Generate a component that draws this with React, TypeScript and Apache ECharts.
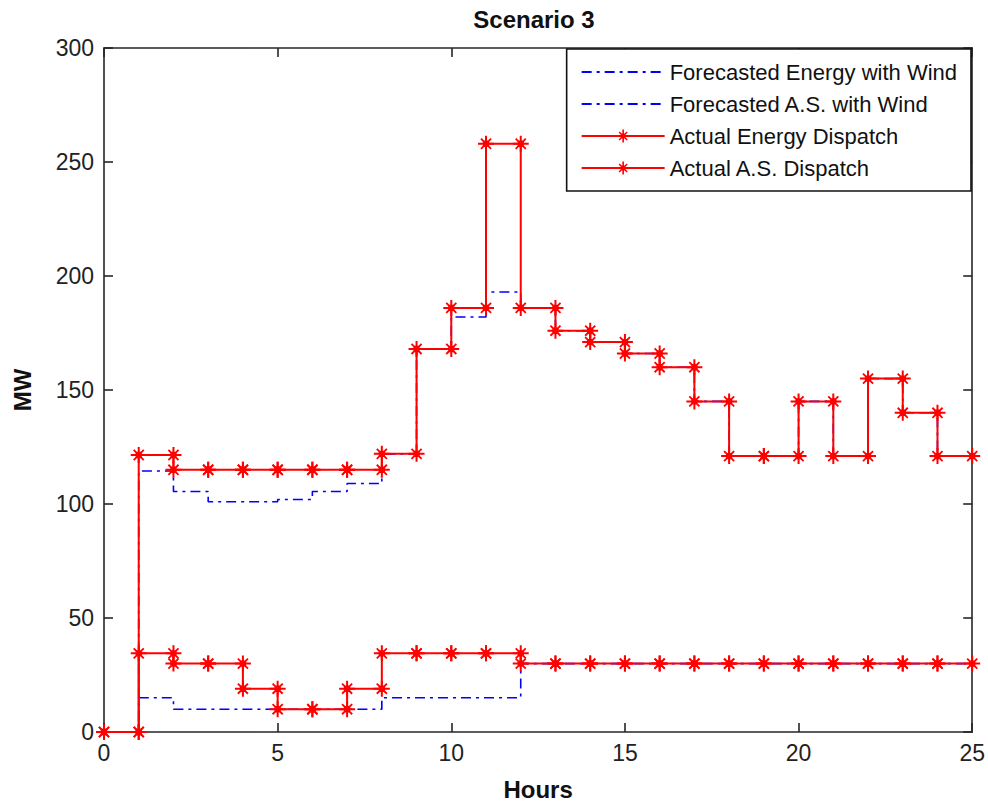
import React, { useEffect, useRef } from "react";
import * as echarts from "echarts";

// Step values for each one-hour interval [h, h+1], h = 0..24
const forecastEnergy = [0, 114.5, 105.5, 101, 101, 102, 105.5, 109, 122, 168, 182, 193, 186, 176, 171, 166, 160, 145, 121, 121, 145, 121, 155, 140, 121];
const forecastAS = [0, 15, 10, 10, 10, 10, 10, 10, 15, 15, 15, 15, 30, 30, 30, 30, 30, 30, 30, 30, 30, 30, 30, 30, 30];
const actualEnergy = [0, 121.5, 115, 115, 115, 115, 115, 115, 122, 168, 186, 258, 186, 176, 171, 166, 160, 145, 121, 121, 145, 121, 155, 140, 121];
const actualAS = [0, 34.5, 30, 30, 19, 10, 10, 19, 34.5, 34.5, 34.5, 34.5, 30, 30, 30, 30, 30, 30, 30, 30, 30, 30, 30, 30, 30];

const seriesNames = [
  "Forecasted Energy with Wind",
  "Forecasted A.S. with Wind",
  "Actual Energy Dispatch",
  "Actual A.S. Dispatch",
];

const xTicks = { min: 0, max: 25, interval: 5 };
const yTicks = { min: 0, max: 300, interval: 50 };

const FONT = "'Liberation Sans', Arial, Helvetica, sans-serif";
const AXIS_COLOR = "#262626";

const starPath =
  "path://M0,7 H16 V9 H0 Z M7,0 H9 V16 H7 Z " +
  "M4.8,6.3 L6.3,4.8 L9.7,4.8 L11.2,6.3 L11.2,9.7 L9.7,11.2 L6.3,11.2 L4.8,9.7 Z " +
  "M2.3,3.6 L3.6,2.3 L13.7,12.4 L12.4,13.7 Z M12.4,2.3 L13.7,3.6 L3.6,13.7 L2.3,12.4 Z";

function toSteps(vals: number[]): number[][] {
  const pts: number[][] = [];
  vals.forEach((v, i) => {
    pts.push([i, v]);
    pts.push([i + 1, v]);
  });
  return pts;
}

export default function App() {
  const ref = useRef<HTMLDivElement>(null);
  useEffect(() => {
    document.body.style.margin = "0";
    const chart = echarts.init(ref.current!, null, { renderer: "svg" });
    const axisCommon = {
      axisLine: { show: true, onZero: false, lineStyle: { color: AXIS_COLOR, width: 1.6 } },
      axisTick: { show: true, inside: true, length: 9, lineStyle: { color: AXIS_COLOR, width: 1.6 } },
      splitLine: { show: false },
    };
    const blueLine = (name: string, data: number[]) => ({
      name,
      type: "line",
      data: toSteps(data),
      showSymbol: false,
      symbol: "none",
      lineStyle: { color: "#0000ff", width: 1.6, type: [10, 5, 3, 5] },
      itemStyle: { color: "#0000ff" },
    });
    const redLine = (name: string, data: number[]) => ({
      name,
      type: "line",
      data: toSteps(data),
      symbol: starPath,
      symbolSize: 16,
      lineStyle: { color: "#ff0000", width: 2 },
      itemStyle: { color: "#ff0000", borderWidth: 0 },
    });
    chart.setOption({
      animation: false,
      backgroundColor: "#ffffff",
      title: {
        text: "Scenario 3",
        left: 529,
        textAlign: "center",
        top: 2,
        textStyle: { fontFamily: FONT, fontSize: 24, fontWeight: "bold", color: "#111" },
      },
      grid: { left: 104, right: 13, top: 48, bottom: 66 },
      legend: {
        orient: "vertical",
        right: 17,
        top: 49,
        data: [
          { name: seriesNames[0], itemStyle: { opacity: 0 } },
          { name: seriesNames[1], itemStyle: { opacity: 0 } },
          { name: seriesNames[2] },
          { name: seriesNames[3] },
        ],
        itemWidth: 83,
        itemHeight: 16,
        itemGap: 10,
        padding: [12, 14, 12, 14],
        borderColor: "#111",
        borderWidth: 1.6,
        backgroundColor: "#ffffff",
        borderRadius: 0,
        textStyle: { fontFamily: FONT, fontSize: 22, color: "#111", lineHeight: 22 },
        selectedMode: false,
      },
      xAxis: [
        {
          type: "value",
          ...xTicks,
          position: "bottom",
          name: "Hours",
          nameLocation: "middle",
          nameGap: 45,
          nameTextStyle: { fontFamily: FONT, fontSize: 24, fontWeight: "bold", color: "#111" },
          axisLabel: { fontFamily: FONT, fontSize: 23, color: "#222", margin: 9 },
          ...axisCommon,
        },
        {
          type: "value",
          ...xTicks,
          position: "top",
          axisLabel: { show: false },
          ...axisCommon,
        },
      ],
      yAxis: [
        {
          type: "value",
          ...yTicks,
          position: "left",
          name: "MW",
          nameLocation: "middle",
          nameGap: 70,
          nameTextStyle: { fontFamily: FONT, fontSize: 24, fontWeight: "bold", color: "#111" },
          axisLabel: { fontFamily: FONT, fontSize: 23, color: "#222", margin: 10 },
          ...axisCommon,
        },
        {
          type: "value",
          ...yTicks,
          position: "right",
          axisLabel: { show: false },
          ...axisCommon,
        },
      ],
      series: [
        blueLine(seriesNames[0], forecastEnergy),
        blueLine(seriesNames[1], forecastAS),
        redLine(seriesNames[2], actualEnergy),
        redLine(seriesNames[3], actualAS),
      ],
    });
    return () => chart.dispose();
  }, []);
  return <div ref={ref} style={{ width: 988, height: 806 }} />;
}
